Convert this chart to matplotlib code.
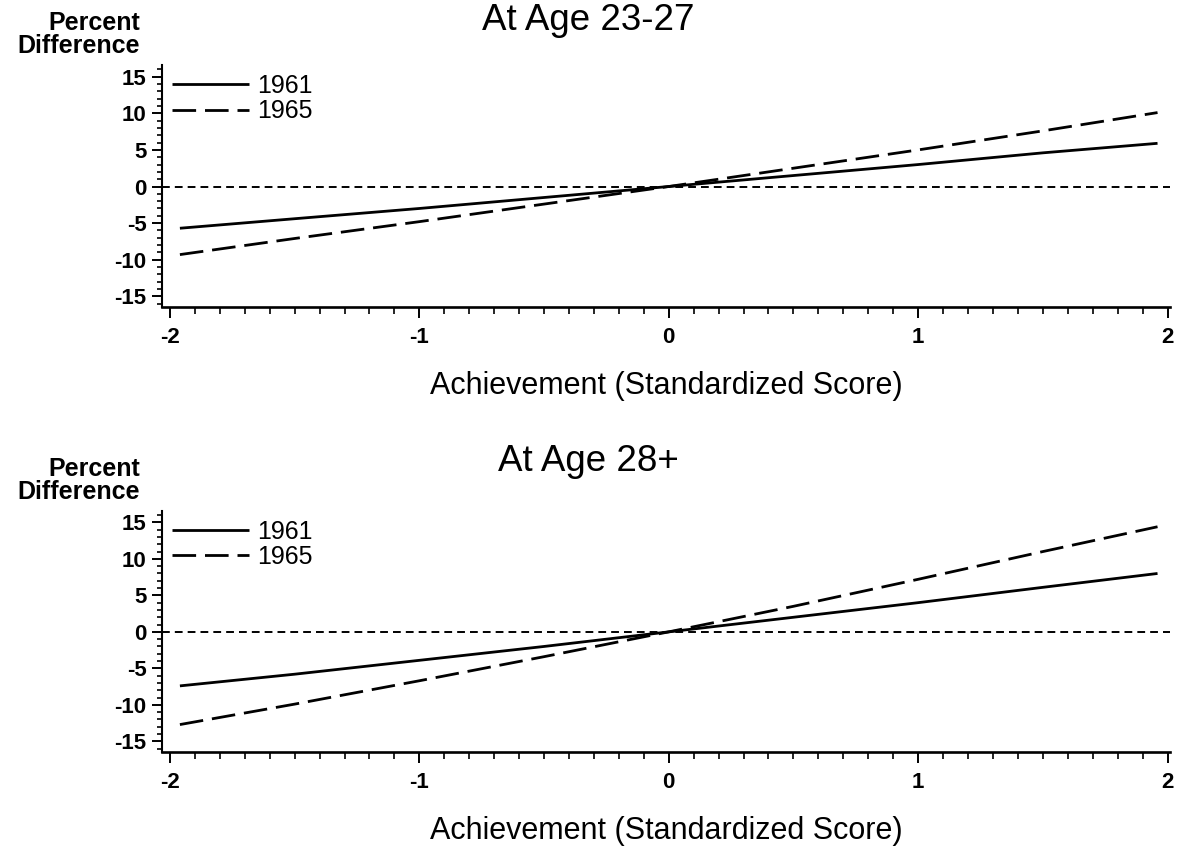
import matplotlib
matplotlib.use("Agg")
import matplotlib.pyplot as plt
from matplotlib.ticker import MultipleLocator

plt.rcParams["font.family"] = ["Liberation Sans", "DejaVu Sans"]
plt.rcParams["axes.unicode_minus"] = False

# Achievement (standardized score) at which the effect is evaluated
achievement = [-1.96, -1.5, -1.0, -0.5, 0.0, 0.5, 1.0, 1.5, 1.96]

# Percent difference by cohort, ages 23-27
age23_1961 = [-5.7, -4.4, -3.0, -1.5, 0.0, 1.5, 3.0, 4.6, 5.9]
age23_1965 = [-9.3, -7.1, -4.8, -2.4, 0.0, 2.5, 5.0, 7.6, 10.1]

# Percent difference by cohort, ages 28+
age28_1961 = [-7.4, -5.8, -3.9, -2.0, 0.0, 2.0, 4.0, 6.1, 8.0]
age28_1965 = [-12.7, -9.9, -6.7, -3.4, 0.0, 3.5, 7.2, 11.0, 14.4]

panel_titles = ["At Age 23-27", "At Age 28+"]
cohorts = ["1961", "1965"]
x_ticks = [-2, -1, 0, 1, 2]
y_ticks = [-15, -10, -5, 0, 5, 10, 15]

W, H = 1177, 848
fig = plt.figure(figsize=(W / 100, H / 100), dpi=100)


def px_box(left, top, right, bottom):
    return [left / W, 1 - bottom / H, (right - left) / W, (bottom - top) / H]


panels = [
    (px_box(161.7, 65, 1170, 307.3), age23_1961, age23_1965),
    (px_box(161.7, 510.7, 1170, 752.3), age28_1961, age28_1965),
]
title_y = [21, 462]

for i, (box, s61, s65) in enumerate(panels):
    ax = fig.add_axes(box)
    ax.axhline(0, color="black", lw=1.4, ls=(0, (4, 2.6)), zorder=1)
    ax.plot(achievement, s61, color="black", lw=2.0, solid_capstyle="butt",
            label=cohorts[0])
    ax.plot(achievement, s65, color="black", lw=2.0, ls=(0, (8.5, 3.2)),
            label=cohorts[1])

    ax.set_xlim(-2.033, 2.01)
    ax.set_ylim(-16.5, 16.6)
    ax.set_xticks(x_ticks)
    ax.set_xticklabels([str(v) for v in x_ticks])
    ax.set_yticks(y_ticks)
    ax.set_yticklabels([str(v) for v in y_ticks])
    ax.xaxis.set_minor_locator(MultipleLocator(0.1))
    ax.yaxis.set_minor_locator(MultipleLocator(1))

    for side in ("top", "right"):
        ax.spines[side].set_visible(False)
    ax.spines["left"].set_linewidth(1.5)
    ax.spines["bottom"].set_linewidth(1.9)

    ax.tick_params(axis="y", which="major", length=7, width=1.4, pad=4,
                   labelsize=16)
    ax.tick_params(axis="y", which="minor", length=3.5, width=1.2)
    ax.tick_params(axis="x", which="major", length=8, width=1.4, pad=6,
                   labelsize=16)
    ax.tick_params(axis="x", which="minor", length=5, width=1.2)
    for lab in ax.get_xticklabels() + ax.get_yticklabels():
        lab.set_fontweight("bold")

    ax.set_xlabel("Achievement (Standardized Score)", fontsize=22, labelpad=17)

    leg = ax.legend(loc="upper left", bbox_to_anchor=(0.01, 0.962),
                    frameon=False, fontsize=18, handlelength=3.1,
                    handletextpad=0.3, labelspacing=0.05, borderpad=0,
                    borderaxespad=0)

    top_px = box[1] + box[3]
    fig.text(140 / W, top_px + 35 / H, "Percent", ha="right", va="baseline",
             fontsize=18, fontweight="bold")
    fig.text(140 / W, top_px + 12 / H, "Difference", ha="right",
             va="baseline", fontsize=18, fontweight="bold")
    fig.text(0.5, 1 - title_y[i] / H, panel_titles[i], ha="center",
             va="center", fontsize=26.5)

fig.savefig("out.png", dpi=100)
